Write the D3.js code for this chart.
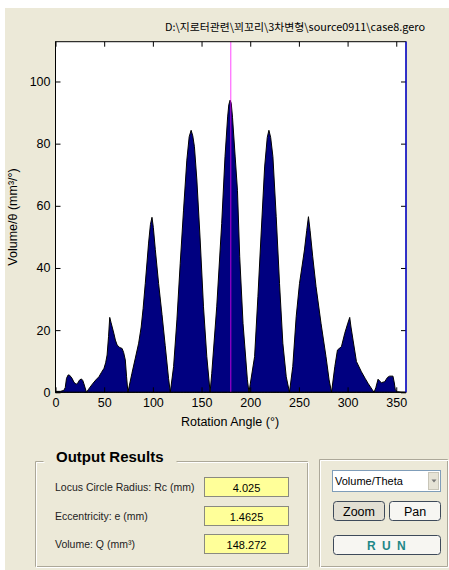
<!DOCTYPE html>
<html><head><meta charset="utf-8">
<script src="https://cdn.jsdelivr.net/npm/d3@7"></script>
<style>
html,body{margin:0;padding:0;background:#fff;}
svg{display:block;font-family:"Liberation Sans",Arial,sans-serif;}
</style></head>
<body>
<svg id="c" width="449" height="570"></svg>
<script>
const titleText = "D:\\지로터관련\\꾀꼬리\\3차변형\\source0911\\case8.gero";
const xLabel = "Rotation Angle (°)";
const yLabel = "Volume/θ (mm³/°)";
const xTicks = [0,50,100,150,200,250,300,350];
const yTicks = [0,20,40,60,80,100];
const angles = [0,5,8.5,10,11.3,13,14.5,17,19,21.2,23,24.5,26.6,28,29,31.8,
 34,38,41.5,44.6,47,49.8,51.5,53,54.5,55.7,57,59.9,61.5,63.3,66,68.4,70,71.7,73,74.4,
 78.5,82,85.4,88,90,92.2,95.6,97.5,99.1,100.5,102.5,105.9,109.4,112.7,116.1,117.9,
 121.3,124.7,128.1,131.5,134.9,137.3,139.3,141,142.7,145.2,148.6,152,155.4,158.8,
 160.5,165.6,170.7,174.1,176.8,178,179.3,180.5,181.8,184.5,186.9,189.2,192.6,197.1,198.7,
 204.5,207.9,211.4,214.8,217.5,219.2,221,223.3,226.7,230.1,233.5,237,240.3,
 243.7,247.2,250.6,255.7,258,259.8,261.5,264.2,267.6,272.7,277.8,281,283.5,
 286.9,289.6,293.7,297.1,300,302.2,303.5,305.6,309.1,314.2,318,321,325,327.2,
 329,331.3,333,334.7,338.1,341,343.2,346.6,348,349,351,355,360];
const volumes = [0.3,0.3,0.6,1.5,4.5,5.6,5.5,4.5,3.2,2.6,3,3.9,4.3,3.8,2.9,0,
 1,2.7,4,5,6.3,7.7,9.5,12,18,24.1,22.5,19,16.8,15.2,14.4,14.1,12.8,10.4,5,0,
 6.1,11,15.8,21,27,35,48,54,56.3,53,46,35,25,15,4.5,0,
 8.3,23.3,41.5,58.6,74.7,82.2,84.3,82.5,79,68.3,49,27.5,11.5,0,
 6.1,27.5,54.3,75.8,88.6,92.5,94,93,88.5,76,65,43.6,22.2,4,0,
 11.5,30.8,52.2,72.5,82,84.3,82,75.8,56.5,35,15.8,5,0,
 8.3,24.3,35,45.8,52,56.5,52,43.6,34,22.2,11.5,4,0,
 8.3,13.6,14.7,19,22,24.1,21,16.8,9.9,6.6,4.5,2.9,1,0,
 1.5,4.2,3.6,3.1,3.4,4.8,5.2,5.2,3,0.8,0.2,0.05,0];
const cursorAngle = 180;
const resultLabels = ["Locus Circle Radius: Rc (mm)","Eccentricity: e (mm)","Volume: Q (mm³)"];
const resultValues = ["4.025","1.4625","148.272"];
const dropdownText = "Volume/Theta";

const svg = d3.select("#c");
// window background
svg.append("rect").attr("x",5).attr("y",8).attr("width",444).attr("height",562).attr("fill","#ECE9D8");

const L=55.5, R=406, T=41.7, B=392.3;
const x = d3.scaleLinear().domain([0,360]).range([L,R]);
const y = d3.scaleLinear().domain([0,112.8]).range([B,T]);

svg.append("rect").attr("x",L).attr("y",T).attr("width",R-L).attr("height",B-T).attr("fill","#fff");

const pts = angles.map((a,i)=>[a,volumes[i]]);
const area = d3.area().x(d=>x(d[0])).y0(y(0)).y1(d=>y(d[1]));
svg.append("path").datum(pts).attr("d",area).attr("fill","#000080").attr("stroke","#000").attr("stroke-width",1).attr("stroke-linejoin","round");

// cursor line
svg.append("line").attr("x1",x(cursorAngle)).attr("x2",x(cursorAngle)).attr("y1",T).attr("y2",B)
  .attr("stroke","#FF00FF").attr("stroke-opacity",0.6).attr("stroke-width",1.2);

// axes
function style(g){g.select(".domain").remove();g.selectAll("line").attr("stroke","#000");g.selectAll("text").attr("fill","#000").style("font-size","12.5px").style("font-family","'Liberation Sans',Arial,sans-serif");}
svg.append("g").attr("transform",`translate(0,${B})`).call(d3.axisBottom(x).tickValues(xTicks).tickSizeInner(-5).tickSizeOuter(0).tickPadding(6)).call(style);
svg.append("g").attr("transform",`translate(0,${T})`).call(d3.axisTop(x).tickValues(xTicks).tickSizeInner(-5).tickSizeOuter(0).tickFormat("")).call(style);
svg.append("g").attr("transform",`translate(${L},0)`).call(d3.axisLeft(y).tickValues(yTicks).tickSizeInner(-5).tickSizeOuter(0).tickPadding(5)).call(style);
svg.append("g").attr("transform",`translate(${R},0)`).call(d3.axisRight(y).tickValues(yTicks).tickSizeInner(-5).tickSizeOuter(0).tickFormat("")).call(style);

// frame
svg.append("rect").attr("x",L).attr("y",T).attr("width",R-L).attr("height",B-T).attr("fill","none").attr("stroke","#000").attr("stroke-width",1);
svg.append("line").attr("x1",x(360)).attr("x2",x(360)).attr("y1",T).attr("y2",B).attr("stroke","#0000FF").attr("stroke-width",1.2);

// titles
svg.append("text").attr("x",425).attr("y",31).attr("text-anchor","end")
  .style("font-family","'Noto Sans CJK KR','Liberation Sans',sans-serif").style("font-size","10.5px")
  .attr("textLength",260).attr("lengthAdjust","spacingAndGlyphs").text(titleText);
svg.append("text").attr("x",230).attr("y",426).attr("text-anchor","middle").style("font-size","12.5px").text(xLabel);
svg.append("text").attr("transform","translate(17,217) rotate(-90)").attr("text-anchor","middle").style("font-size","12.5px").text(yLabel);

// etched group boxes
function etched(x0,y0,w,h,gapStart,gapEnd){
  const g = svg.append("g");
  [[0,"#ACA899"],[1,"#fff"]].forEach(([o,c])=>{
    const p = gapStart!=null
      ? `M${x0+gapStart+o},${y0+o}H${x0+o}V${y0+h+o}H${x0+w+o}V${y0+o}H${x0+gapEnd+o}`
      : `M${x0+o},${y0+o}H${x0+w+o}V${y0+h+o}H${x0+o}Z`;
    g.append("path").attr("d",p).attr("fill","none").attr("stroke",c).attr("stroke-width",1);
  });
}
etched(35.5,461.5,272,105,8,141);
svg.append("text").attr("x",56).attr("y",462).style("font-size","15px").style("font-weight","bold").text("Output Results");
etched(319.5,459.5,128,107);

const rowY=[487,516,544];
resultLabels.forEach((t,i)=>{
  svg.append("text").attr("x",55).attr("y",rowY[i]+4).style("font-size","10.5px").attr("fill","#222").text(t);
  svg.append("rect").attr("x",204.5).attr("y",rowY[i]-9.5).attr("width",84).attr("height",19).attr("fill","#FFFF99").attr("stroke","#8a8a80");
  svg.append("text").attr("x",246.5).attr("y",rowY[i]+4.5).attr("text-anchor","middle").style("font-size","11px").text(resultValues[i]);
});

// dropdown
svg.append("rect").attr("x",332.5).attr("y",470.5).attr("width",108).attr("height",21).attr("fill","#fff").attr("stroke","#7F9DB9");
svg.append("rect").attr("x",428.5).attr("y",472.5).attr("width",10).attr("height",17).attr("fill","#E6E3D6").attr("stroke","#c8c5b8");
svg.append("path").attr("d","M431.5,479.5h5l-2.5,3z").attr("fill","#777");
svg.append("text").attr("x",335).attr("y",485).style("font-size","11px").text(dropdownText);

// buttons
function button(x0,y0,w,h,label,pressed,opts={}){
  svg.append("rect").attr("x",x0).attr("y",y0).attr("width",w).attr("height",h).attr("rx",3)
    .attr("fill",pressed?"#E2DFD3":"#F7F6F2").attr("stroke","#3E4A5A");
  const t = svg.append("text").attr("x",x0+w/2).attr("y",y0+h/2+4.5).attr("text-anchor","middle")
    .style("font-size",opts.size||"12.5px").attr("fill",opts.color||"#000").text(label);
  if(opts.bold) t.style("font-weight","bold");
  if(opts.ls) t.style("letter-spacing",opts.ls);
}
button(333.5,501.5,51,19,"Zoom",true);
button(389.5,501.5,51,19,"Pan",false);
button(333.5,535.5,107,19,"R U N",false,{bold:true,color:"#1E8787",size:"12px",ls:"1.5px"});
</script>
</body></html>
